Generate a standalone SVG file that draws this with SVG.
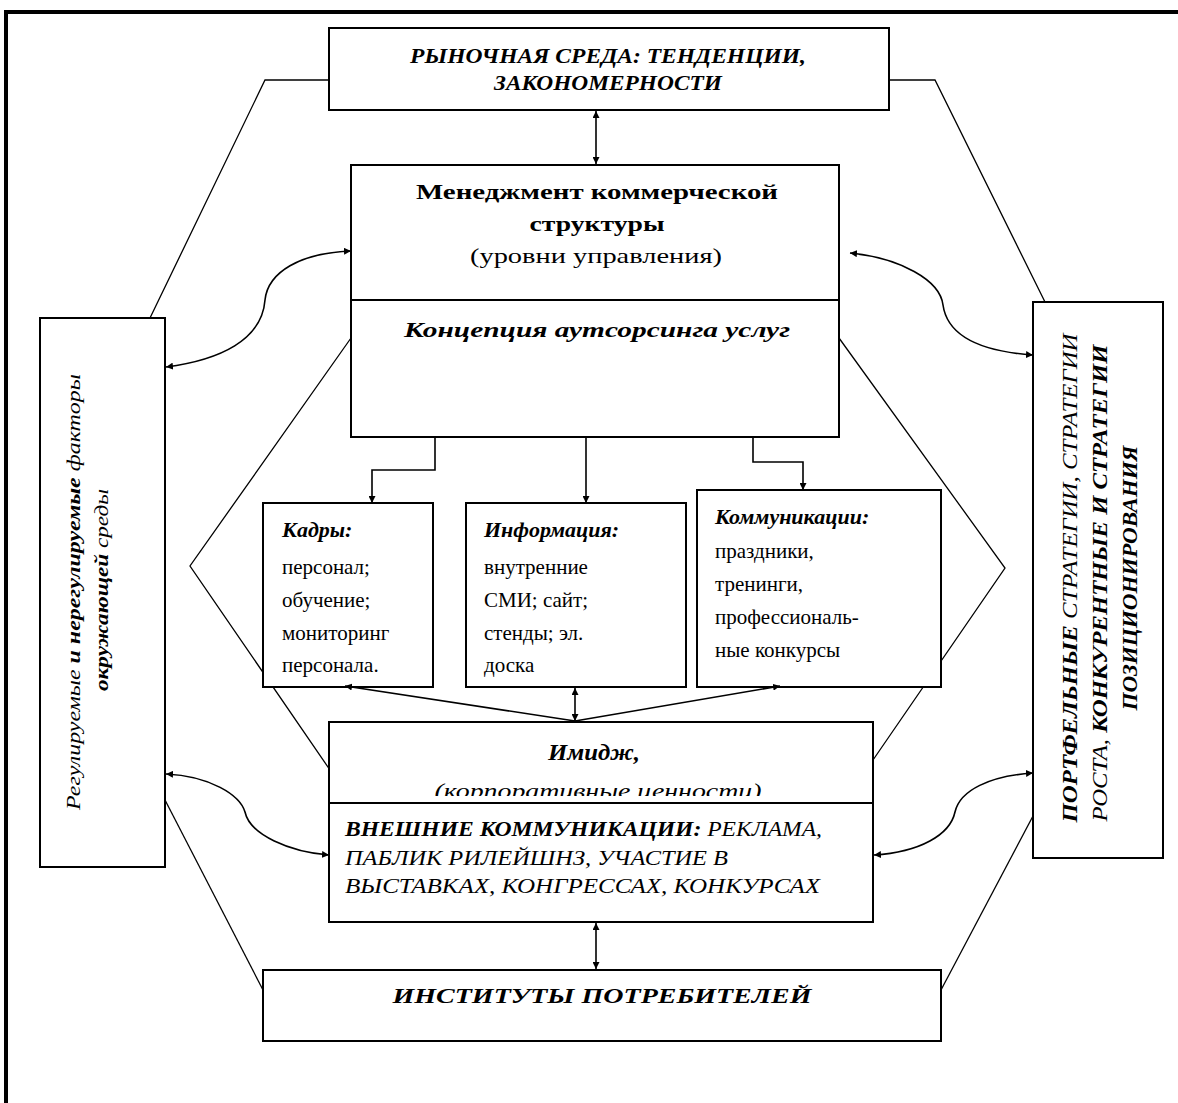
<svg xmlns="http://www.w3.org/2000/svg" width="1178" height="1103" viewBox="0 0 1178 1103">
<style>
.box{fill:#fff;stroke:#000;stroke-width:2}
.ln{fill:none;stroke:#000;stroke-width:1.3}
.ar{fill:none;stroke:#000;stroke-width:1.6}
.t{font-family:"Liberation Serif","DejaVu Serif Condensed","DejaVu Serif",serif;font-stretch:condensed;fill:#000}
.b{font-weight:bold}
.i{font-style:italic}
</style>
<defs>
<marker id="ah" viewBox="0 0 10 10" refX="10" refY="5" markerWidth="7" markerHeight="7" orient="auto-start-reverse" markerUnits="userSpaceOnUse">
<path d="M0,0 L10,5 L0,10 z" fill="#000"/>
</marker>
<clipPath id="clipImg"><rect x="329" y="722" width="544" height="74"/></clipPath>
</defs>
<rect width="1178" height="1103" fill="#fff"/>
<path d="M6,1103 V12 H1178" fill="none" stroke="#000" stroke-width="4"/>

<g id="frame-lines">
<path class="ln" d="M329,80 H265 L150,318"/>
<path class="ln" d="M889,80 H935 L1045,302"/>
<path class="ln" d="M351,338 L190,566 L330,770"/>
<path class="ln" d="M839,338 L1005,568 L873,760"/>
<path class="ln" d="M165,800 L263,990"/>
<path class="ln" d="M1033,816 L941,990"/>
</g>

<g id="market">
<rect class="box" x="329" y="28" width="560" height="82"/>
<text class="t b i" x="608" y="63" font-size="20" text-anchor="middle" textLength="396" lengthAdjust="spacingAndGlyphs">РЫНОЧНАЯ СРЕДА: ТЕНДЕНЦИИ,</text>
<text class="t b i" x="608" y="90" font-size="20" text-anchor="middle" textLength="228" lengthAdjust="spacingAndGlyphs">ЗАКОНОМЕРНОСТИ</text>
</g>

<g id="management">
<rect class="box" x="351" y="165" width="488" height="272"/>
<line x1="351" y1="300" x2="839" y2="300" stroke="#000" stroke-width="2"/>
<text class="t b" x="597" y="199" font-size="22" text-anchor="middle" textLength="362" lengthAdjust="spacingAndGlyphs">Менеджмент   коммерческой</text>
<text class="t b" x="597" y="231" font-size="22" text-anchor="middle" textLength="135" lengthAdjust="spacingAndGlyphs">структуры</text>
<text class="t" x="596" y="263" font-size="22" text-anchor="middle" textLength="252" lengthAdjust="spacingAndGlyphs">(уровни управления)</text>
<text class="t b i" x="597" y="337" font-size="22" text-anchor="middle" textLength="386" lengthAdjust="spacingAndGlyphs">Концепция   аутсорсинга услуг</text>
</g>

<g id="left-factors">
<rect class="box" x="40" y="318" width="125" height="549"/>
<text class="t i" font-size="19" text-anchor="middle" transform="translate(80,592) rotate(-90)" textLength="436" lengthAdjust="spacingAndGlyphs">Регулируемые  <tspan class="b">и  нерегулируемые</tspan>  факторы</text>
<text class="t i" font-size="19" text-anchor="middle" transform="translate(108,590) rotate(-90)" textLength="202" lengthAdjust="spacingAndGlyphs"><tspan class="b">окружающей</tspan> среды</text>
</g>

<g id="right-strategies">
<rect class="box" x="1033" y="302" width="130" height="556"/>
<text class="t i" font-size="20" text-anchor="middle" transform="translate(1077,578) rotate(-90)" textLength="489" lengthAdjust="spacingAndGlyphs"><tspan class="b">ПОРТФЕЛЬНЫЕ</tspan> СТРАТЕГИИ,  СТРАТЕГИИ</text>
<text class="t i" font-size="20" text-anchor="middle" transform="translate(1107,583) rotate(-90)" textLength="477" lengthAdjust="spacingAndGlyphs">РОСТА, <tspan class="b">КОНКУРЕНТНЫЕ  И СТРАТЕГИИ</tspan></text>
<text class="t b i" font-size="20" text-anchor="middle" transform="translate(1137,578) rotate(-90)" textLength="265" lengthAdjust="spacingAndGlyphs">ПОЗИЦИОНИРОВАНИЯ</text>
</g>

<g id="kadry">
<rect class="box" x="263" y="503" width="170" height="184"/>
<text class="t b i" x="282" y="537" font-size="22">Кадры:</text>
<text class="t" x="282" y="574" font-size="21">персонал;</text>
<text class="t" x="282" y="607" font-size="21">обучение;</text>
<text class="t" x="282" y="640" font-size="21">мониторинг</text>
<text class="t" x="282" y="672" font-size="21">персонала.</text>
</g>

<g id="informatsiya">
<rect class="box" x="466" y="503" width="220" height="184"/>
<text class="t b i" x="484" y="537" font-size="22">Информация:</text>
<text class="t" x="484" y="574" font-size="21">внутренние</text>
<text class="t" x="484" y="607" font-size="21">СМИ; сайт;</text>
<text class="t" x="484" y="640" font-size="21">стенды; эл.</text>
<text class="t" x="484" y="672" font-size="21">доска</text>
</g>

<g id="kommunikatsii">
<rect class="box" x="697" y="490" width="244" height="197"/>
<text class="t b i" x="715" y="524" font-size="22">Коммуникации:</text>
<text class="t" x="715" y="558" font-size="21">праздники,</text>
<text class="t" x="715" y="591" font-size="21">тренинги,</text>
<text class="t" x="715" y="624" font-size="21">профессиональ-</text>
<text class="t" x="715" y="657" font-size="21">ные конкурсы</text>
</g>

<g id="image">
<rect class="box" x="329" y="722" width="544" height="200"/>
<line x1="329" y1="803" x2="873" y2="803" stroke="#000" stroke-width="2"/>
<text class="t b i" x="594" y="760" font-size="23" text-anchor="middle" textLength="92" lengthAdjust="spacingAndGlyphs">Имидж,</text>
<g clip-path="url(#clipImg)">
<text class="t i" x="598" y="798" font-size="22" text-anchor="middle" textLength="327" lengthAdjust="spacingAndGlyphs">(корпоративные ценности)</text>
</g>
<text class="t i" x="345" y="836" font-size="20" textLength="477" lengthAdjust="spacingAndGlyphs"><tspan class="b">ВНЕШНИЕ КОММУНИКАЦИИ:</tspan>  РЕКЛАМА,</text>
<text class="t i" x="345" y="865" font-size="20" textLength="383" lengthAdjust="spacingAndGlyphs">ПАБЛИК РИЛЕЙШНЗ, УЧАСТИЕ В</text>
<text class="t i" x="345" y="893" font-size="20" textLength="475" lengthAdjust="spacingAndGlyphs">ВЫСТАВКАХ,   КОНГРЕССАХ,  КОНКУРСАХ</text>
</g>

<g id="consumers">
<rect class="box" x="263" y="970" width="678" height="71"/>
<text class="t b i" x="602" y="1003" font-size="22" text-anchor="middle" textLength="419" lengthAdjust="spacingAndGlyphs">ИНСТИТУТЫ ПОТРЕБИТЕЛЕЙ</text>
</g>

<g id="connectors">
<path class="ar" d="M596,111 V164" marker-start="url(#ah)" marker-end="url(#ah)"/>
<path class="ar" d="M351,251 C300,253 268,272 265,300 C262,340 220,360 166,367" marker-start="url(#ah)" marker-end="url(#ah)"/>
<path class="ar" d="M850,253 C900,258 940,280 943,305 C948,340 990,352 1033,355" marker-start="url(#ah)" marker-end="url(#ah)"/>
<path class="ar" d="M166,774 C210,776 240,795 245,812 C250,835 290,852 329,855" marker-start="url(#ah)" marker-end="url(#ah)"/>
<path class="ar" d="M874,855 C920,852 950,835 955,812 C960,790 990,776 1033,773" marker-start="url(#ah)" marker-end="url(#ah)"/>
<path class="ar" d="M435,437 V470 H372 V503" marker-end="url(#ah)"/>
<path class="ar" d="M586,437 V503" marker-end="url(#ah)"/>
<path class="ar" d="M753,437 V462 H803 V490" marker-end="url(#ah)"/>
<path class="ar" d="M575,721 L345,686" marker-end="url(#ah)"/>
<path class="ar" d="M575,688 V721" marker-start="url(#ah)" marker-end="url(#ah)"/>
<path class="ar" d="M575,721 L780,686" marker-end="url(#ah)"/>
<path class="ar" d="M596,923 V969" marker-start="url(#ah)" marker-end="url(#ah)"/>
</g>
</svg>
